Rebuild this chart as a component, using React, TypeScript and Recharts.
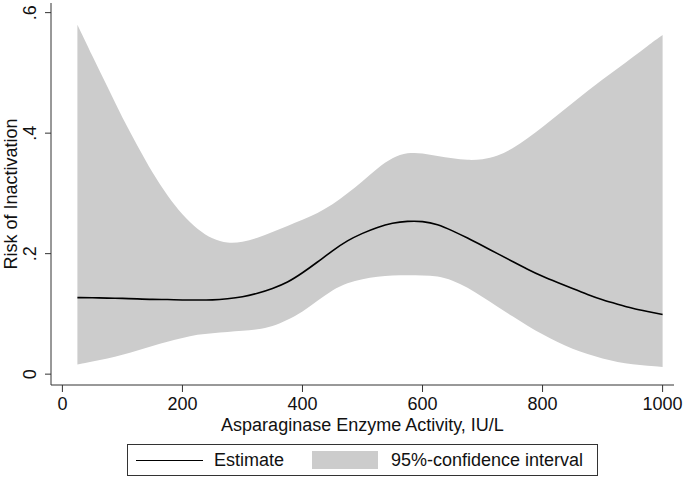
import React from "react"
import {ComposedChart, Area, Line, XAxis, YAxis, Label} from "recharts"

const activity = [25, 50, 75, 100, 125, 150, 175, 200, 225, 250, 275, 300, 325, 350, 375, 400, 425, 450, 475, 500,
    525, 550, 575, 600, 625, 650, 675, 700, 725, 750, 775, 800, 825, 850, 875, 900, 925, 950, 975, 1000]

const estimate = [0.127, 0.127, 0.126, 0.126, 0.125, 0.124, 0.124, 0.123, 0.123, 0.123, 0.125, 0.128, 0.134, 0.142,
    0.152, 0.168, 0.186, 0.205, 0.222, 0.234, 0.244, 0.251, 0.254, 0.254, 0.249, 0.238, 0.226, 0.213, 0.200, 0.187,
    0.174, 0.162, 0.152, 0.142, 0.132, 0.123, 0.116, 0.109, 0.104, 0.099]

const lowerCI = [0.016, 0.021, 0.026, 0.032, 0.039, 0.047, 0.054, 0.060, 0.066, 0.068, 0.070, 0.072, 0.074, 0.079,
    0.090, 0.103, 0.122, 0.140, 0.152, 0.158, 0.162, 0.164, 0.164, 0.164, 0.163, 0.156, 0.144, 0.128, 0.112, 0.096,
    0.080, 0.066, 0.053, 0.042, 0.033, 0.026, 0.020, 0.016, 0.014, 0.012]

const upperCI = [0.580, 0.528, 0.477, 0.425, 0.379, 0.334, 0.296, 0.264, 0.240, 0.224, 0.217, 0.219, 0.226, 0.236,
    0.246, 0.256, 0.267, 0.281, 0.300, 0.320, 0.342, 0.360, 0.368, 0.367, 0.362, 0.358, 0.355, 0.356, 0.362, 0.374,
    0.391, 0.410, 0.430, 0.450, 0.470, 0.489, 0.507, 0.526, 0.545, 0.563]

const xTicks = [0, 200, 400, 600, 800, 1000]
const yTicks = [0, 0.2, 0.4, 0.6]
const yTickLabels = ["0", ".2", ".4", ".6"]

const chartData = activity.map((x, i) => ({
    x,
    estimate: estimate[i],
    ci: [lowerCI[i], upperCI[i]],
}))

const FONT = "'Liberation Sans', Arial, Helvetica, sans-serif"
const AXIS = "#333333"
const BAND = "#cccccc"
const FS = 18

const YTick = (props: any) => {
    const {y, payload} = props
    const idx = yTicks.indexOf(payload.value)
    return (
        <text transform={`translate(36, ${y}) rotate(-90)`} textAnchor="middle" fontSize={FS} fill="#111" fontFamily={FONT}>
            {idx >= 0 ? yTickLabels[idx] : payload.value}
        </text>
    )
}

const App = () => {
    return (
        <div style={{position: "absolute", left: 0, top: 0, width: 685, height: 480, background: "#fff", fontFamily: FONT}}>
            <ComposedChart width={685} height={480} data={chartData} margin={{top: 3, right: 11, left: 0, bottom: 0}}>
                <XAxis
                    dataKey="x"
                    type="number"
                    domain={[-19, 1019]}
                    ticks={xTicks}
                    allowDataOverflow
                    height={95}
                    tickSize={7}
                    tickMargin={5}
                    stroke={AXIS}
                    tick={{fontSize: FS, fill: "#111", fontFamily: FONT}}
                >
                    <Label
                        content={(p: any) => {
                            const vb = p.viewBox
                            return (
                                <text x={vb.x + vb.width / 2} y={431} textAnchor="middle" fontSize={FS} fill="#111" fontFamily={FONT}>
                                    Asparaginase Enzyme Activity, IU/L
                                </text>
                            )
                        }}
                    />
                </XAxis>
                <XAxis xAxisId="top" orientation="top" type="number" domain={[-19, 1019]} height={0} tick={false} tickLine={false} stroke={AXIS} />
                <YAxis
                    type="number"
                    domain={[-0.018, 0.616]}
                    ticks={yTicks}
                    allowDataOverflow
                    width={51}
                    tickSize={6}
                    stroke={AXIS}
                    tick={<YTick />}
                >
                    <Label
                        content={(p: any) => {
                            const vb = p.viewBox
                            return (
                                <text transform={`translate(17, ${vb.y + vb.height / 2}) rotate(-90)`} textAnchor="middle" fontSize={FS} fill="#111" fontFamily={FONT}>
                                    Risk of Inactivation
                                </text>
                            )
                        }}
                    />
                </YAxis>
                <YAxis yAxisId="right" orientation="right" width={0} tick={false} tickLine={false} stroke={AXIS} />
                <Area type="basis" dataKey="ci" stroke="none" fill={BAND} fillOpacity={1} isAnimationActive={false} />
                <Line type="basis" dataKey="estimate" stroke="#000" strokeWidth={1.6} dot={false} isAnimationActive={false} />
            </ComposedChart>
            <div style={{position: "absolute", left: 127, top: 444, width: 469, height: 30, border: `1px solid ${AXIS}`, fontSize: FS, color: "#111"}}>
                <div style={{position: "absolute", left: 8, top: 15, width: 67, height: 0, borderTop: "1.5px solid #000"}} />
                <div style={{position: "absolute", left: 86, top: 3, lineHeight: "24px"}}>Estimate</div>
                <div style={{position: "absolute", left: 184, top: 6, width: 66, height: 18, background: BAND}} />
                <div style={{position: "absolute", left: 263, top: 3, lineHeight: "24px"}}>95%-confidence interval</div>
            </div>
        </div>
    )
}

export default App
